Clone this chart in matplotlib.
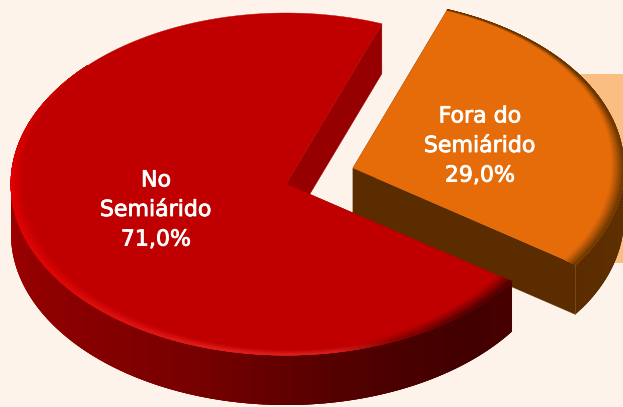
import numpy as np
import matplotlib
matplotlib.use("Agg")
import matplotlib.pyplot as plt
import matplotlib.patheffects as pe
from matplotlib.patches import Polygon, Rectangle
from matplotlib.collections import PolyCollection

labels = ["Fora do\nSemiárido\n29,0%", "No\nSemiárido\n71,0%"]
values = [29.0, 71.0]
colors_top = ["#E66C0A", "#C00000"]
color_cut = ["#5A2C00", "#960000"]

BG = "#FDF3EA"
W, H = 623, 407
RADII = [(271, 169), (275, 171)]
DEPTH = 50
START = -34.8
centers = [(353, 168), (286, 184)]
label_pos = [(480, 146), (156, 210)]

fig = plt.figure(figsize=(W / 100, H / 100), dpi=100, facecolor=BG)
ax = fig.add_axes([0, 0, 1, 1])
ax.set_xlim(0, W)
ax.set_ylim(H, 0)
ax.axis("off")
ax.add_patch(Rectangle((560, 74), 70, 189, fc="#FBBE82", ec="none", zorder=0))


def pt(i, deg, s=1.0):
    t = np.radians(deg)
    c = centers[i]
    a, b = RADII[i]
    return np.c_[c[0] + s * a * np.cos(t), c[1] - s * b * np.sin(t)]


def hexrgb(h):
    return np.array(matplotlib.colors.to_rgb(h))


def mix(a, b, t):
    return (1 - t) * a + t * b


def interp_color(stops, x):
    xs = [s[0] for s in stops]
    arr = np.array([hexrgb(s[1]) for s in stops])
    return np.array([np.interp(x, xs, arr[:, k]) for k in range(3)])


side_red = [(180, "#A00000"), (215, "#8C0000"), (250, "#780000"), (285, "#500000"), (310, "#420000"), (330, "#480000")]
side_org = [(-36, "#5A2C00"), (0, "#603000"), (70, "#5A2C00")]
rim_red = [(69, "#C00000", 0), (135, "#C00000", 0), (155, "#D00000", 6), (178, "#E20000", 13), (215, "#E00808", 13),
           (255, "#E42020", 10), (280, "#D82020", 7), (293, "#8A0000", 12), (310, "#500000", 16), (326, "#480000", 18)]
rim_org = [(-35, "#6A3600", 14), (0, "#6A3600", 13), (30, "#5A3000", 7), (70, "#5A3000", 1.5)]


def draw_slice(i, z):
    c = centers[i]
    a0 = START + sum(values[:i]) * 3.6
    a1 = a0 + values[i] * 3.6
    ang = np.linspace(a0, a1, 181 if i else 60)
    stops = side_red if i else side_org

    for edge in (a0, a1):
        p = pt(i, edge)[0]
        ax.add_patch(Polygon([c, p, p + [0, DEPTH], [c[0], c[1] + DEPTH]], fc=color_cut[i], ec=color_cut[i],
                             lw=0.3, zorder=z))

    # outer wall: strips drawn in order, each overlapping the next to hide seams
    zz = z + 0.1
    for j, (u, v) in enumerate(zip(ang[:-1], ang[1:])):
        if np.sin(np.radians((u + v) / 2)) > 0.05:
            continue
        w = ang[min(j + 3, len(ang) - 1)]
        arc = pt(i, np.linspace(u, w, 5))
        m = (u + v) / 2
        col = interp_color(stops, m % 360 if i else m)
        ax.add_patch(Polygon(np.vstack([arc, arc[::-1] + [0, DEPTH]]), fc=col, ec="none", zorder=zz))
        zz += 1e-4

    ax.add_patch(Polygon(np.vstack([c, pt(i, ang)]), fc=colors_top[i], ec=colors_top[i], lw=0.3, zorder=z + 0.5))

    rim = rim_red if i else rim_org
    rx = [r[0] for r in rim]
    rw = [r[2] for r in rim]
    base = hexrgb(colors_top[i])
    a = RADII[i][0]
    n = 8
    polys, cols = [], []
    for k in range(n):
        for u, v in zip(ang[:-1], ang[1:]):
            mm = (u + v) / 2
            if i:
                mm = mm % 360
                if mm < 60:
                    mm += 360
            width = np.interp(mm, rx, rw)
            if width < 0.5:
                continue
            ec = interp_color([(r[0], r[1]) for r in rim], mm)
            s0 = 1 - width / a * (1 - k / n)
            tt = ((k + 0.5) / n) ** 1.1
            polys.append([pt(i, u, s0)[0], pt(i, v, s0)[0], pt(i, v, 1.0)[0], pt(i, u, 1.0)[0]])
            cols.append(mix(base, ec, tt))
    ax.add_collection(PolyCollection(polys, facecolors=cols, edgecolors=cols, linewidths=0.5, zorder=z + 0.6))


draw_slice(0, 1)
draw_slice(1, 3)

for (x, y), s in zip(label_pos, labels):
    ax.text(x, y, s, color="white", ha="center", va="center", fontsize=15.9, family="DejaVu Sans",
            linespacing=1.6, zorder=6,
            path_effects=[pe.withStroke(linewidth=0.6, foreground="white")])

fig.savefig("out.png", dpi=100, facecolor=BG)
